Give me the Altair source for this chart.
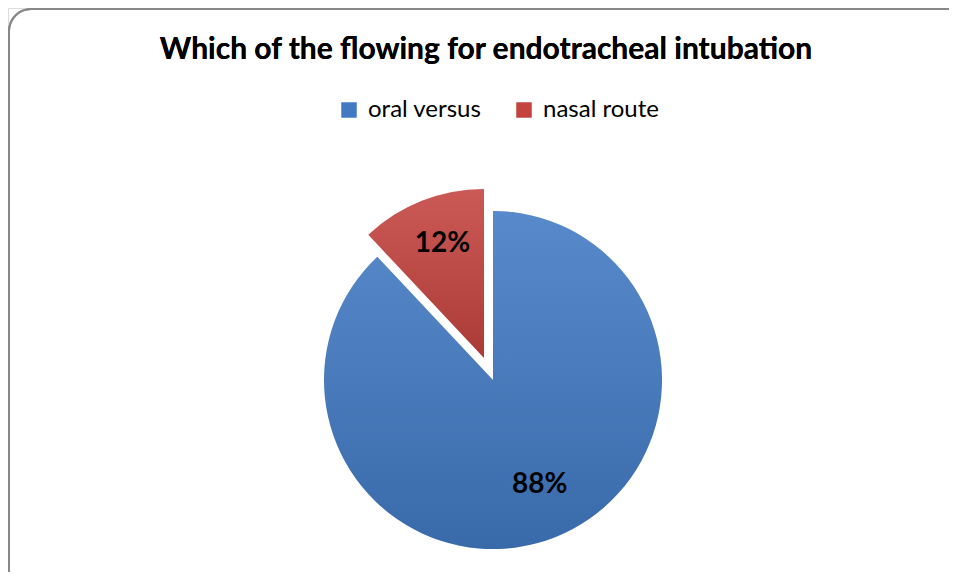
import altair as alt
import pandas as pd

# ---- data ----
categories = ["oral versus", "nasal route"]
values = [88, 12]
labels = ["88%", "12%"]
colors = ["#4179C3", "#C4433F"]
title_text = "Which of the flowing for endotracheal intubation"

df = pd.DataFrame({"cat": categories, "value": values, "label": labels})

FONT = "Lato"
W, H = 941, 564
CX, CY = 485, 372
R = 169
EXPLODE_X, EXPLODE_Y = -9, -22
BORDER = "#888888"
CR = 22  # corner radius of the frame

base = (
    alt.Chart(df)
    .transform_window(
        cum="sum(value)",
        sort=[alt.SortField("value", order="descending")],
        frame=[None, 0],
    )
    .transform_calculate(start="datum.cum - datum.value",
                         mid="datum.cum - datum.value / 2")
)

theta_scale = alt.Scale(domain=[0, 100])
color = alt.Color(
    "cat:N",
    scale=alt.Scale(domain=categories, range=colors),
    sort=categories,
    legend=alt.Legend(
        title=None,
        orient="none",
        legendX=329,
        legendY=90,
        direction="horizontal",
        symbolType="square",
        symbolSize=240,
        symbolStrokeWidth=0,
        labelFont=FONT,
        labelFontSize=24,
        labelColor="#000000",
        labelOffset=7,
        columnPadding=30,
    ),
)

# frame: top edge, left edge and rounded top-left corner (right/bottom run off the page)
frame_top = alt.Chart(df).mark_rule(color=BORDER, strokeWidth=2).encode(
    x=alt.value(CR), x2=alt.value(W), y=alt.value(1)
)
frame_left = alt.Chart(df).mark_rule(color=BORDER, strokeWidth=2).encode(
    x=alt.value(1), y=alt.value(CR), y2=alt.value(H)
)
frame_corner = alt.Chart(df).mark_arc(
    color=BORDER, innerRadius=CR - 1, outerRadius=CR + 1,
    theta=4.712389, theta2=6.2831853,
).encode(x=alt.value(CR + 1), y=alt.value(CR + 1))

title = alt.Chart(df).mark_text(
    text=title_text, font=FONT, fontSize=30, fontWeight="bold",
    color="#000000", align="center", baseline="alphabetic",
).encode(x=alt.value(478), y=alt.value(51))

shade = alt.Gradient(
    gradient="linear",
    stops=[
        alt.GradientStop(color="rgba(255,255,255,0.12)", offset=0),
        alt.GradientStop(color="rgba(0,0,0,0.13)", offset=1),
    ],
    x1=0, x2=0, y1=0, y2=1,
)


def slice_layer(cat, shaded, **offsets):
    layer = base.transform_filter(alt.datum.cat == cat)
    enc = dict(
        theta=alt.Theta("start:Q", scale=theta_scale),
        theta2="cum:Q",
        x=alt.value(CX),
        y=alt.value(CY),
    )
    if shaded:
        return layer.mark_arc(outerRadius=R, fill=shade, **offsets).encode(**enc)
    return layer.mark_arc(outerRadius=R, **offsets).encode(color=color, **enc)


blue = slice_layer(categories[0], False)
blue_shade = slice_layer(categories[0], True)
red = slice_layer(categories[1], False, xOffset=EXPLODE_X, yOffset=EXPLODE_Y)
red_shade = slice_layer(categories[1], True, xOffset=EXPLODE_X, yOffset=EXPLODE_Y)

text_blue = base.transform_filter(alt.datum.cat == categories[0]).mark_text(
    radius=116, font=FONT, fontSize=28, fontWeight="bold", color="#000000",
    dx=4, dy=-3,
).encode(
    theta=alt.Theta("mid:Q", scale=theta_scale),
    text="label:N",
    x=alt.value(CX),
    y=alt.value(CY),
)

text_red = base.transform_filter(alt.datum.cat == categories[1]).mark_text(
    radius=118, font=FONT, fontSize=28, fontWeight="bold", color="#000000",
    xOffset=EXPLODE_X, yOffset=EXPLODE_Y, dx=2, dy=-4,
).encode(
    theta=alt.Theta("mid:Q", scale=theta_scale),
    text="label:N",
    x=alt.value(CX),
    y=alt.value(CY),
)

chart = (
    alt.layer(frame_top, frame_left, frame_corner, title,
              blue, blue_shade, red, red_shade, text_blue, text_red)
    .properties(width=W, height=H, padding=0, autosize=alt.AutoSizeParams(type="none"))
    .configure_view(stroke=None)
    .configure(background="#FFFFFF")
)

chart.save("out.html", embed_options={"renderer": "svg", "actions": False})
